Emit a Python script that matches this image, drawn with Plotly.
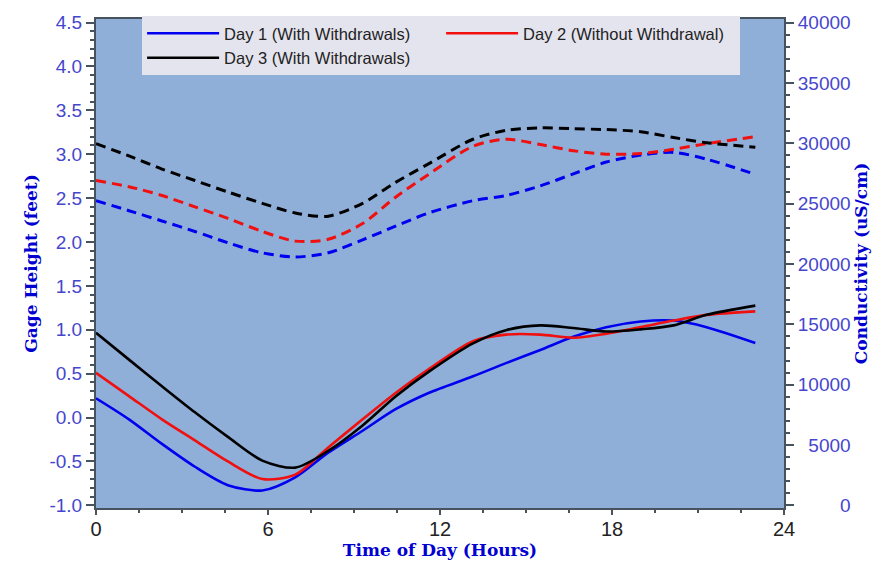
import plotly.graph_objects as go

# Time of day (hours)
hours = [0, 1.15, 2.3, 3.45, 4.6, 5.8, 6.95, 8.1, 9.3, 10.45, 11.6,
         13.15, 14.3, 15.5, 16.65, 17.8, 19.0, 20.15, 21.3, 23.0]

# Gage height (feet) - solid lines
gage_day1 = [0.22, -0.02, -0.30, -0.56, -0.77, -0.83, -0.68, -0.40, -0.15, 0.095, 0.28,
             0.47, 0.62, 0.77, 0.92, 1.03, 1.095, 1.105, 1.03, 0.85]
gage_day2 = [0.51, 0.245, -0.02, -0.26, -0.50, -0.70, -0.65, -0.34, -0.02, 0.28, 0.55,
             0.87, 0.945, 0.945, 0.91, 0.955, 1.03, 1.105, 1.17, 1.21]
gage_day3 = [0.965, 0.66, 0.357, 0.06, -0.22, -0.49, -0.57, -0.38, -0.09, 0.24, 0.52,
             0.845, 0.995, 1.05, 1.02, 0.98, 1.005, 1.05, 1.17, 1.275]

# Conductivity (uS/cm) - dashed lines
cond_day1 = [25240, 24410, 23560, 22690, 21750, 20920, 20580, 20920, 22000, 23130, 24220,
             25240, 25670, 26470, 27460, 28440, 29020, 29240, 28680, 27420]
cond_day2 = [26910, 26400, 25670, 24730, 23780, 22690, 21890, 22040, 23350, 25530, 27420,
             29750, 30330, 29890, 29380, 29090, 29150, 29500, 29960, 30550]
cond_day3 = [29960, 28950, 27860, 26910, 25960, 25020, 24220, 23960, 25020, 26760, 28290,
             30330, 31060, 31270, 31200, 31130, 30950, 30470, 30040, 29670]

names = ["Day 1 (With Withdrawals)", "Day 2 (Without Withdrawal)", "Day 3 (With Withdrawals)"]
colors = ["#0000F0", "#F01010", "#000000"]

x_ticks = [0, 6, 12, 18, 24]
y_ticks = [-1.0, -0.5, 0.0, 0.5, 1.0, 1.5, 2.0, 2.5, 3.0, 3.5, 4.0, 4.5]
y2_ticks = [0, 5000, 10000, 15000, 20000, 25000, 30000, 35000, 40000]

fig = go.Figure()

for g, nm, c in zip([gage_day1, gage_day2, gage_day3], names, colors):
    fig.add_trace(go.Scatter(x=hours, y=g, mode="lines", name=nm,
                             line=dict(color=c, width=2.6, shape="spline", smoothing=0.8),
                             yaxis="y"))
for cd, nm, c in zip([cond_day1, cond_day2, cond_day3], names, colors):
    fig.add_trace(go.Scatter(x=hours, y=cd, mode="lines", name=nm + " conductivity",
                             showlegend=False,
                             line=dict(color=c, width=3, dash="10px,6px", shape="spline", smoothing=0.8),
                             yaxis="y2"))

ylo, yhi = -1.03, 4.54
scale = 40000 / 5.5

axis_line = "#46525e"
tick_blue = "#4646CC"
title_blue = "#0000D0"
title_font = dict(family="DejaVu Serif", size=17, color=title_blue, weight="bold")

fig.update_layout(
    width=890, height=576,
    margin=dict(l=96, r=106, t=13, b=68),
    paper_bgcolor="white",
    plot_bgcolor="#8FAFD8",
    font=dict(family="Liberation Sans, Arial, sans-serif"),
    showlegend=True,
    legend=dict(
        orientation="h",
        x=0.067, y=1.006, xanchor="left", yanchor="top",
        bgcolor="#E4E4EE",
        font=dict(size=16.5, color="#222222"),
        entrywidth=212, entrywidthmode="pixels",
        itemwidth=72,
        tracegroupgap=0,
    ),
    xaxis=dict(
        range=[0, 24], tickvals=x_ticks, ticktext=[str(v) for v in x_ticks],
        showgrid=False, zeroline=False,
        showline=True, linecolor=axis_line, linewidth=2, mirror=True,
        ticks="outside", ticklen=5, tickcolor=axis_line, tickwidth=1.5,
        minor=dict(dtick=1.5, ticks="outside", ticklen=3, tickcolor=axis_line),
        tickfont=dict(size=20, color="#222222"),
        ticklabelstandoff=-3,
        title=dict(text="Time of Day (Hours)", standoff=0, font=title_font),
    ),
    yaxis=dict(
        range=[ylo, yhi], tickvals=y_ticks, ticktext=[f"{v:.1f}" for v in y_ticks],
        showgrid=False, zeroline=False,
        showline=True, linecolor=axis_line, linewidth=2,
        ticks="outside", ticklen=8, tickcolor=axis_line, tickwidth=1.5,
        minor=dict(dtick=0.1, ticks="outside", ticklen=4, tickcolor=axis_line),
        tickfont=dict(size=19, color=tick_blue),
        title=dict(text="Gage Height (feet)", standoff=8, font=title_font),
    ),
    yaxis2=dict(
        overlaying="y", side="right",
        range=[(ylo + 1) * scale, (yhi + 1) * scale],
        tickvals=y2_ticks, ticktext=[str(v).rjust(5, "\u2007") for v in y2_ticks],
        showgrid=False, zeroline=False,
        showline=True, linecolor=axis_line, linewidth=2,
        ticks="outside", ticklen=8, tickcolor=axis_line, tickwidth=1.5,
        minor=dict(dtick=1000, ticks="outside", ticklen=4, tickcolor=axis_line),
        tickfont=dict(size=19, color=tick_blue),
        title=dict(text="Conductivity (uS/cm)", standoff=2, font=title_font),
    ),
)

fig.write_html("out.html")
